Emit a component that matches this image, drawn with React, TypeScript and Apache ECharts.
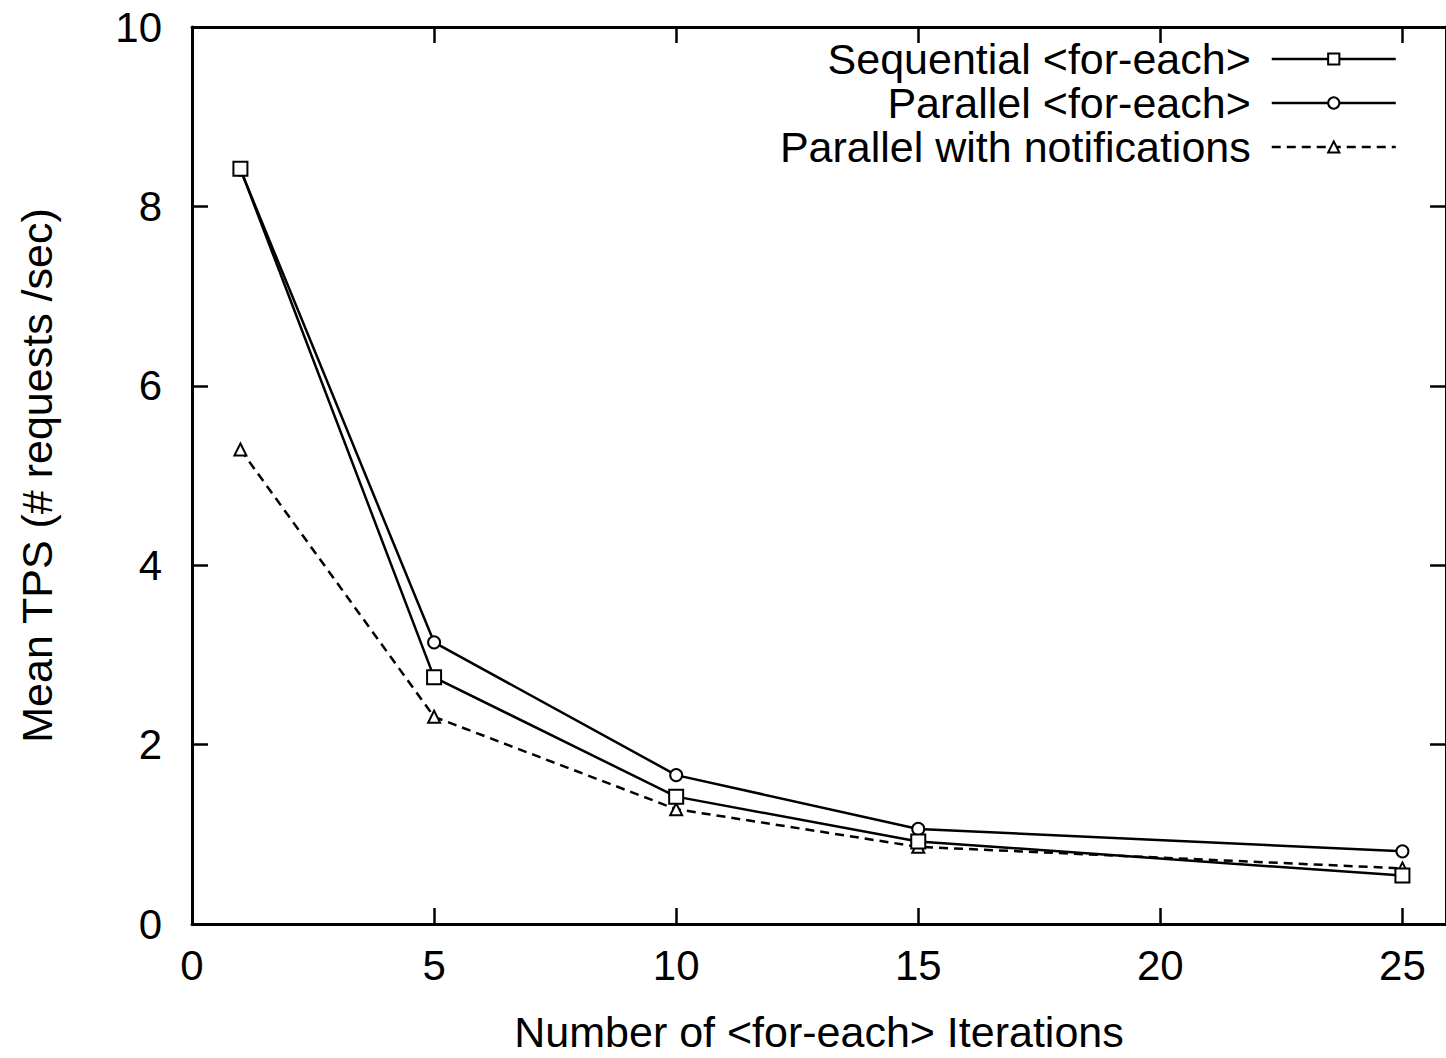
import React, { useEffect, useRef } from "react";
import * as echarts from "echarts";

const xValues = [1, 5, 10, 15, 25];
const sequential = [8.42, 2.75, 1.42, 0.92, 0.54];
const parallel = [8.41, 3.14, 1.66, 1.06, 0.81];
const notifications = [5.29, 2.31, 1.28, 0.86, 0.62];
const seriesNames = [
  "Sequential <for-each>",
  "Parallel <for-each>",
  "Parallel with notifications",
];

const FONT = "Liberation Sans";

export default function App() {
  const ref = useRef<HTMLDivElement>(null);
  useEffect(() => {
    document.body.style.margin = "0";
    const chart = echarts.init(ref.current!, null, { renderer: "svg" });
    const pairs = (ys: number[]) => xValues.map((x, i) => [x, ys[i]]);
    const axisLine = { show: true, onZero: false, lineStyle: { color: "#000", width: 3 } };
    const tick = { show: true, inside: true, length: 16, lineStyle: { color: "#000", width: 2.5 } };
    chart.setOption({
      animation: false,
      backgroundColor: "#fff",
      textStyle: { fontFamily: FONT },
      grid: { left: 192, top: 27, width: 1254, height: 904, containLabel: false },
      legend: {
        right: 44,
        top: 32,
        orient: "vertical",
        align: "right",
        itemWidth: 124,
        itemHeight: 14,
        itemGap: 0,
        lineStyle: { width: 2.5 },
        textStyle: {
          fontFamily: FONT,
          fontSize: 43,
          lineHeight: 44,
          color: "#000",
          padding: [0, 16, 0, 0],
        },
        data: seriesNames,
      },
      xAxis: [
        {
          type: "value",
          min: 0,
          max: 25.9,
          interval: 5,
          axisLine,
          axisTick: tick,
          splitLine: { show: false },
          axisLabel: {
            fontFamily: FONT,
            fontSize: 42,
            color: "#000",
            margin: 20,
            showMaxLabel: false,
          },
          name: "Number of <for-each> Iterations",
          nameLocation: "middle",
          nameGap: 86,
          nameTextStyle: { fontFamily: FONT, fontSize: 43, color: "#000" },
        },
        {
          type: "value",
          position: "top",
          min: 0,
          max: 25.9,
          interval: 5,
          axisLine,
          axisTick: tick,
          splitLine: { show: false },
          axisLabel: { show: false },
        },
      ],
      yAxis: [
        {
          type: "value",
          min: 0,
          max: 10,
          interval: 2,
          axisLine,
          axisTick: tick,
          splitLine: { show: false },
          axisLabel: { fontFamily: FONT, fontSize: 42, color: "#000", margin: 30 },
          name: "Mean TPS (# requests /sec)",
          nameLocation: "middle",
          nameGap: 134,
          nameTextStyle: { fontFamily: FONT, fontSize: 43, color: "#000" },
        },
        {
          type: "value",
          position: "right",
          min: 0,
          max: 10,
          interval: 2,
          axisLine,
          axisTick: tick,
          splitLine: { show: false },
          axisLabel: { show: false },
        },
      ],
      series: [
        {
          name: seriesNames[1],
          type: "line",
          data: pairs(parallel),
          symbol: "emptyCircle",
          symbolSize: 12,
          itemStyle: { color: "#000", borderColor: "#000", borderWidth: 3 },
          lineStyle: { color: "#000", width: 2.5 },
          z: 2,
        },
        {
          name: seriesNames[0],
          type: "line",
          data: pairs(sequential),
          symbol: "emptyRect",
          symbolSize: 14,
          itemStyle: { color: "#000", borderColor: "#000", borderWidth: 3.5 },
          lineStyle: { color: "#000", width: 2.5 },
          z: 3,
        },
        {
          name: seriesNames[2],
          type: "line",
          data: pairs(notifications),
          symbol: "emptyTriangle",
          symbolSize: 12,
          itemStyle: { color: "#000", borderColor: "#000", borderWidth: 3 },
          lineStyle: { color: "#000", width: 2.5, type: [9, 6] },
          z: 2,
        },
      ],
    });
    return () => chart.dispose();
  }, []);
  return (
    <div
      ref={ref}
      style={{ position: "absolute", left: 0, top: 0, width: 1446, height: 1058 }}
    />
  );
}
